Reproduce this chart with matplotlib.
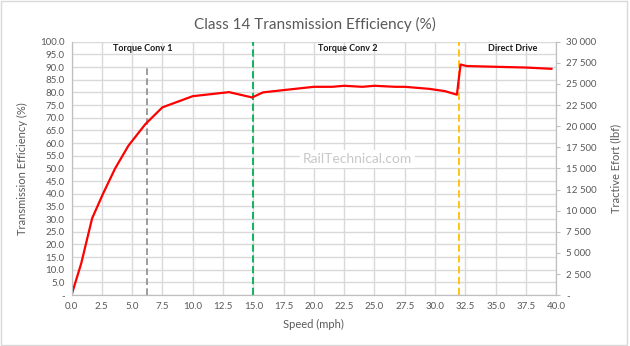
import matplotlib
matplotlib.use('Agg')
from matplotlib import pyplot as plt
from matplotlib.patches import Rectangle
from matplotlib.ticker import FuncFormatter, MultipleLocator

# efficiency curve, speed in mph, efficiency in %
speed = [0, 0.8, 1.7, 2.6, 3.6, 4.7, 6.1, 7.5, 10.0, 13.0, 14.9, 15.8, 17.5, 20.0,
         21.5, 22.5, 24.0, 25.0, 26.7, 27.5, 29.5, 30.8, 31.8, 32.1, 32.6, 35.0, 37.5, 39.6]
efficiency = [0, 12.5, 30.3, 40.0, 50.0, 59.0, 67.5, 74.1, 78.5, 80.1, 78.0, 80.0, 80.9, 82.2,
              82.2, 82.6, 82.2, 82.6, 82.2, 82.2, 81.4, 80.5, 79.1, 91.0, 90.4, 90.1, 89.8, 89.3]

# gear change markers (speed, top of line in %)
conv1_speed, conv1_top = 6.2, 90.5
conv2_speed = 15.0
direct_speed = 32.0

stage_names = ['Torque Conv 1', 'Torque Conv 2', 'Direct Drive']
stage_pos = [5.9, 22.8, 36.4]

grey = '#595959'
plt.rcParams['font.family'] = ['Lato', 'DejaVu Sans']

fig = plt.figure(figsize=(6.3, 3.46), dpi=100)
ax = fig.add_axes([0.1135, 0.147, 0.7695, 0.7325])
ax2 = ax.twinx()

ax.plot(speed, efficiency, color='#ff0000', linewidth=1.6, zorder=5)
ax.plot([conv1_speed, conv1_speed], [0, conv1_top], color='#8c8c8c', linestyle=(0, (4, 2)), linewidth=1.2, zorder=4)
ax.axvline(conv2_speed, color='#00b050', linestyle=(0, (4, 2)), linewidth=1.3, zorder=4)
ax.axvline(direct_speed, color='#ffc000', linestyle=(0, (4, 2)), linewidth=1.3, zorder=4)

for name, x in zip(stage_names, stage_pos):
    ax.text(x, 97.5, name, ha='center', va='center', fontsize=6.5, fontweight='bold', color='#1a1a1a', zorder=6)

ax.text(23.6, 53.7, 'RailTechnical.com', ha='center', va='center', fontsize=10, color='#c8c8c8',
        bbox=dict(facecolor='white', edgecolor='none', pad=2), zorder=3)

ax.set_xlim(0, 40)
ax.set_ylim(0, 100)
ax.xaxis.set_major_locator(MultipleLocator(2.5))
ax.yaxis.set_major_locator(MultipleLocator(5))
ax.xaxis.set_major_formatter(FuncFormatter(lambda v, p: f'{v:.1f}'))
ax.yaxis.set_major_formatter(FuncFormatter(lambda v, p: '-' if v == 0 else f'{v:.1f}'))
ax.grid(True, color='#d9d9d9', linewidth=1.0)
ax.set_axisbelow(True)
ax.tick_params(axis='both', length=0, labelsize=7, labelcolor=grey, pad=5)

ax2.set_ylim(0, 30000)
ax2.yaxis.set_major_locator(MultipleLocator(2500))
ax2.yaxis.set_major_formatter(FuncFormatter(lambda v, p: '-' if v == 0 else f'{int(v):,}'.replace(',', ' ')))
ax2.tick_params(axis='y', length=3, color='#bfbfbf', labelsize=7, labelcolor=grey, pad=4)

for a in (ax, ax2):
    a.spines['top'].set_visible(False)
    for side in ('left', 'right', 'bottom'):
        a.spines[side].set_color('#bfbfbf')

ax.set_xlabel('Speed (mph)', fontsize=8, color=grey, labelpad=6)
ax.set_ylabel('Transmission Efficiency (%)', fontsize=8, color=grey, labelpad=9)
ax2.set_ylabel('Tractive Efort (lbf)', fontsize=8, color=grey, labelpad=10)
fig.suptitle('Class 14 Transmission Efficiency (%)', x=0.5, y=0.95, fontsize=11, color=grey)

fig.add_artist(Rectangle((0.002, 0.004), 0.994, 0.992, transform=fig.transFigure,
                         fill=False, edgecolor='#d9d9d9', linewidth=1))

fig.savefig('out.png', dpi=100, facecolor='white')
